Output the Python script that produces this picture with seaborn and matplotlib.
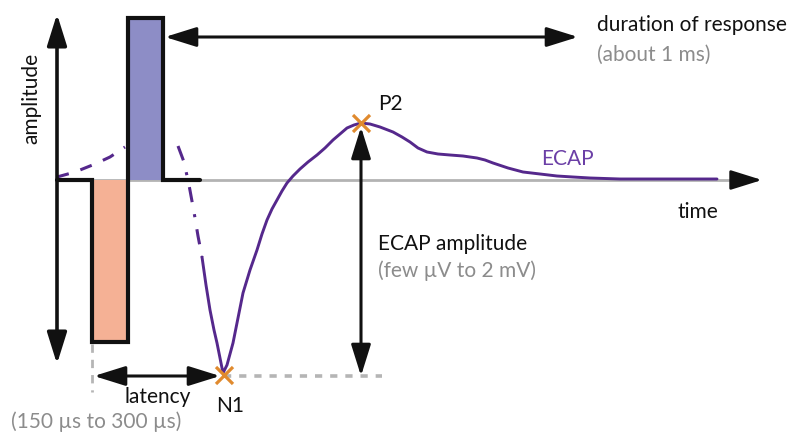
import numpy as np
import pandas as pd
import matplotlib
matplotlib.use("Agg")
import matplotlib.pyplot as plt
import seaborn as sns

# diagram coordinates (canvas units, y grows downward)
pulse_x = [57, 92, 92, 128, 128, 163, 163, 200]
pulse_y = [180, 180, 342, 342, 18, 18, 180, 180]

# stimulus artefact (dashed) before / after the pulse
art1_x = [57, 75, 95, 110, 125]
art1_y = [177, 172, 164, 157, 147]
art2_x = [178, 184, 189, 194, 198, 202]
art2_y = [146, 162, 185, 212, 236, 257]

# ECAP trace
ecap_x = [202, 206, 210, 214, 217, 220, 223, 227, 233, 238, 243, 250, 257, 262,
          267, 272, 277, 282, 287, 293, 300, 308, 317, 325, 333, 340, 347, 354,
          361, 370, 380, 393, 402, 410, 418, 427, 438, 450, 463, 477, 485, 493,
          508, 523, 540, 557, 573, 590, 620, 650, 685, 717]
ecap_y = [257, 285, 310, 330, 343, 358, 373, 365, 343, 318, 293, 270, 250, 234,
          220, 209, 200, 191, 183, 176, 169, 162, 155, 148, 140, 134, 128, 125,
          123, 124, 127, 132, 137, 142, 148, 152, 154, 155, 156, 158, 160, 163,
          168, 172, 174, 176, 177, 178, 179, 179, 179, 179]

n1 = (224, 375)
p2 = (361, 123)
baseline_y = 180

black = "#111111"
grey = "#8c8c8c"
purple = "#55288c"
orange = "#e08a2e"

sns.set_theme(style="white")
plt.rcParams["font.family"] = ["Lato", "DejaVu Sans"]

fig = plt.figure(figsize=(8.03, 4.36), dpi=100)
ax = fig.add_axes([0, 0, 1, 1])
ax.set_xlim(0, 803)
ax.set_ylim(436, 0)
ax.axis("off")

head = "head_length=1.6,head_width=0.5"

# time axis (grey) with black head
ax.plot([57, 742], [baseline_y, baseline_y], color="#b3b3b3", lw=2.0, zorder=1)
ax.annotate("", xy=(762, baseline_y), xytext=(737, baseline_y),
            arrowprops=dict(arrowstyle="-|>," + head, color=black, lw=2,
                            shrinkA=0, shrinkB=0))

# amplitude axis
ax.annotate("", xy=(57, 14), xytext=(57, 364),
            arrowprops=dict(arrowstyle="<|-|>," + head, color=black, lw=2.6,
                            shrinkA=0, shrinkB=0))

# pulse phases
ax.fill_between([92, 128], baseline_y, 342, color="#f5b195", lw=0, zorder=2)
ax.fill_between([128, 163], 18, baseline_y, color="#8d8dc6", lw=0, zorder=2)
ax.plot(pulse_x, pulse_y, color=black, lw=3, zorder=3, solid_joinstyle="miter")

# artefact & ECAP
sns.lineplot(x=art1_x, y=art1_y, ax=ax, color=purple, lw=2.2, sort=False,
             linestyle=(0, (4, 4)), zorder=2)
sns.lineplot(x=art2_x, y=art2_y, ax=ax, color=purple, lw=2.2, sort=False,
             linestyle=(0, (5, 4, 1, 4)), zorder=2)
sns.lineplot(x=ecap_x, y=ecap_y, ax=ax, color=purple, lw=2.1, sort=False, zorder=4)

# grey guide lines
ax.plot([n1[0], 382], [376, 376], color="#b5b5b5", lw=2.6,
        linestyle=(0, (2, 2.2)), zorder=1)
ax.plot([92, 92], [344, 392], color="#b5b5b5", lw=2, linestyle=(0, (3, 2.5)), zorder=1)

# peak markers
ax.scatter([n1[0], p2[0]], [n1[1], p2[1]], marker="x", s=150, color=orange,
           linewidths=2.3, zorder=5)

arrow = dict(arrowstyle="<|-|>," + head, color=black, lw=2.2, shrinkA=0, shrinkB=0)
# duration arrow
ax.annotate("", xy=(165, 37), xytext=(578, 37), arrowprops=arrow)
# latency arrow
ax.annotate("", xy=(94, 376), xytext=(220, 376), arrowprops=arrow)
# amplitude arrow
ax.annotate("", xy=(361, 127), xytext=(361, 376), arrowprops=arrow)

fs = 15
ax.text(31, 98, "amplitude", rotation=90, ha="center", va="center", fontsize=fs, color=black)
ax.text(597, 25, "duration of response", ha="left", va="center", fontsize=fs, color=black)
ax.text(597, 55, "(about 1 ms)", ha="left", va="center", fontsize=fs, color=grey)
ax.text(378, 104, "P2", ha="left", va="center", fontsize=fs, color=black)
ax.text(541, 159, "ECAP", ha="left", va="center", fontsize=fs, color="#6b3fa6")
ax.text(678, 212, "time", ha="left", va="center", fontsize=fs, color=black)
ax.text(378, 244, "ECAP amplitude", ha="left", va="center", fontsize=fs, color=black)
ax.text(378, 271, "(few µV to 2 mV)", ha="left", va="center", fontsize=fs, color=grey)
ax.text(125, 397, "latency", ha="left", va="center", fontsize=fs, color=black)
ax.text(216, 406, "N1", ha="left", va="center", fontsize=fs, color=black)
ax.text(11, 422, "(150 µs to 300 µs)", ha="left", va="center", fontsize=fs, color=grey)

fig.savefig("out.png", dpi=100)
